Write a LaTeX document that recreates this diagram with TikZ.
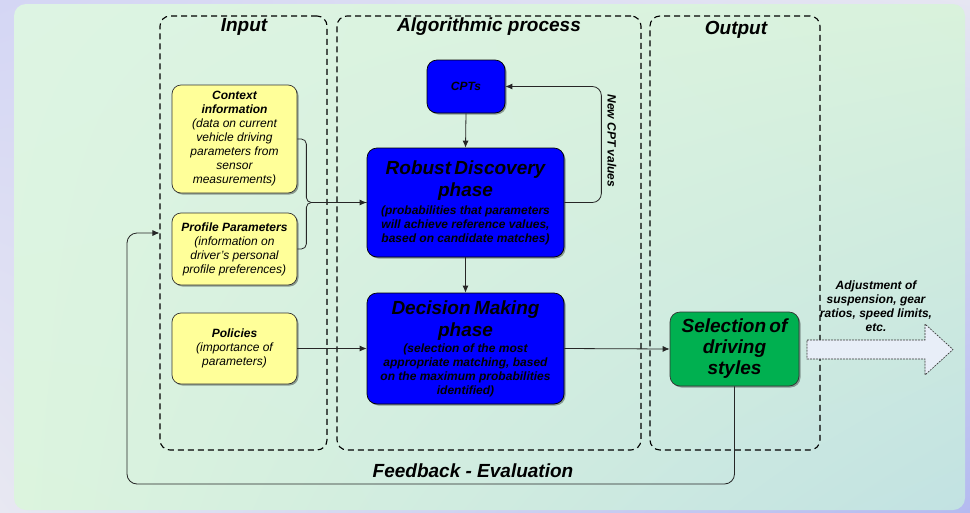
\documentclass[tikz,border=0pt]{standalone}
\usepackage{fontspec}
\setmainfont{Liberation Sans}
\usetikzlibrary{arrows.meta,shadows,calc,shadings}
\definecolor{outUL}{HTML}{D4D6F4}
\definecolor{outUR}{HTML}{E6E6F2}
\definecolor{outLL}{HTML}{E8E8F2}
\definecolor{outLR}{HTML}{B4BAF0}
\definecolor{inUL}{HTML}{DDF4E3}
\definecolor{inUR}{HTML}{D9F2DC}
\definecolor{inLL}{HTML}{DCF4DE}
\definecolor{inLR}{HTML}{C2E2E2}
\definecolor{yelF}{HTML}{FFFF99}
\definecolor{bluF}{HTML}{0000FF}
\definecolor{grnF}{HTML}{00B050}
\definecolor{arrF}{HTML}{E8EEF8}
\newcommand\BigT{\fontsize{19}{22}\selectfont\bfseries\itshape}
\newcommand\SmT{\fontsize{12}{14}\selectfont}
\begin{document}
\begin{tikzpicture}[x=1pt,y=-1pt,
  panel/.style={draw=black, line width=1.1pt, dash pattern=on 6pt off 4pt, rounded corners=10pt, inner sep=0pt},
  shad/.style={drop shadow={shadow xshift=1.5pt,shadow yshift=-1.5pt,opacity=0.35,fill=black}},
  ybox/.style={shad, draw=black!80, fill=yelF, rounded corners=9pt, line width=0.7pt, minimum width=125pt, text width=122pt, align=center, inner sep=0pt},
  bbox/.style={shad, draw=black, fill=bluF, rounded corners=10pt, line width=0.7pt, align=center, inner sep=0pt},
  gbox/.style={shad, draw=black!80, fill=grnF, rounded corners=10pt, line width=0.7pt, align=center, inner sep=0pt},
  ttl/.style={font=\BigT, inner sep=0pt},
  lbl/.style={font=\SmT\bfseries\itshape, inner sep=0pt, align=center},
  conn/.style={draw=black!85, line width=0.8pt},
  arr/.style={conn, -{Latex[length=7pt,width=6pt]}}
]
\useasboundingbox (0,0) rectangle (970,512);
% background
\shade[upper left=outUL, upper right=outUR, lower left=outLL, lower right=outLR] (0,0) rectangle (970,512);
\shade[rounded corners=12pt, upper left=inUL, upper right=inUR, lower left=inLL, lower right=inLR] (14,4) rectangle (965,510);

% panels
\node[panel, minimum width=167pt, minimum height=434pt] (pin) at (243.5,233) {};
\node[panel, minimum width=304pt, minimum height=434pt] (palg) at (489,233) {};
\node[panel, minimum width=170pt, minimum height=434pt] (pout) at (735,233) {};
\node[ttl] (tin) at (244,27) {Input};
\node[ttl] (talg) at (489,27) {Algorithmic process};
\node[ttl] (tout) at (736,30) {Output};

% boxes
\node[ybox, minimum height=108pt] (ctx) at (234.5,139) {{\SmT\bfseries\itshape Context\\ information\par}{\SmT\itshape (data on current\\ vehicle driving\\ parameters from\\ sensor\\ measurements)\par}};
\node[ybox, minimum height=72pt] (prof) at (234.5,249) {{\SmT\bfseries\itshape Profile Parameters\par}{\SmT\itshape (information on\\ driver's personal\\ profile preferences)\par}};
\node[ybox, minimum height=71pt] (pol) at (234.5,348.5) {{\SmT\bfseries\itshape Policies\par}{\SmT\itshape (importance of\\ parameters)\par}};
\node[bbox, minimum width=78pt, minimum height=53pt, font=\SmT\bfseries\itshape] (cpt) at (466,86.5) {CPTs};
\node[bbox, minimum width=197pt, minimum height=109pt, text width=192pt] (rd) at (465.5,202.5) {{\BigT Robust Discovery\\ phase\par}\vspace{4pt}{\SmT\bfseries\itshape (probabilities that parameters\\ will achieve reference values,\\ based on candidate matches)\par}};
\node[bbox, minimum width=197pt, minimum height=111pt, text width=192pt] (dm) at (465.5,348.5) {{\BigT Decision Making\\ phase\par}\vspace{2pt}{\SmT\bfseries\itshape (selection of the most\\ appropriate matching, based\\ on the maximum probabilities\\ identified)\par}\vspace{-6pt}};
\node[gbox, minimum width=129pt, minimum height=74pt, text width=125pt] (sel) at (734.5,349) {{\fontsize{19}{21}\selectfont\bfseries\itshape Selection of\\ driving\\ styles\par}};

% connectors
\draw[conn, rounded corners=5pt] (ctx.east) -- ++(9,0) |- (rd.west);
\draw[arr, rounded corners=5pt] (prof.east) -- ++(9,0) |- (rd.west);
\draw[arr] (pol.east) -- (dm.west);
\draw[arr] (cpt.south) -- (rd.north);
\draw[arr] (rd.south) -- (dm.north);
\draw[arr, rounded corners=9pt] (rd.east) -- ++(37,0) |- (cpt.east);
\node[lbl, rotate=-90] (ncpt) at (612,141) {New CPT values};
\draw[arr] (dm.east) -- (sel.west);
\coordinate (fbl) at (127,484);
\draw[arr, rounded corners=10pt] (sel.south) |- (fbl) |- (pin.west);
\node[ttl] (fb) at (473,471) {Feedback - Evaluation};

% output block arrow
\draw[draw=black!80, line width=0.6pt, dash pattern=on 2pt off 1pt, fill=arrF] (807,340) -- (925,340) -- (925,324) -- (953,349.5) -- (925,375) -- (925,359) -- (807,359) -- cycle;
\node[lbl] (adj) at (876,306) {Adjustment of\\ suspension, gear\\ ratios, speed limits,\\ etc.};
\end{tikzpicture}
\end{document}
